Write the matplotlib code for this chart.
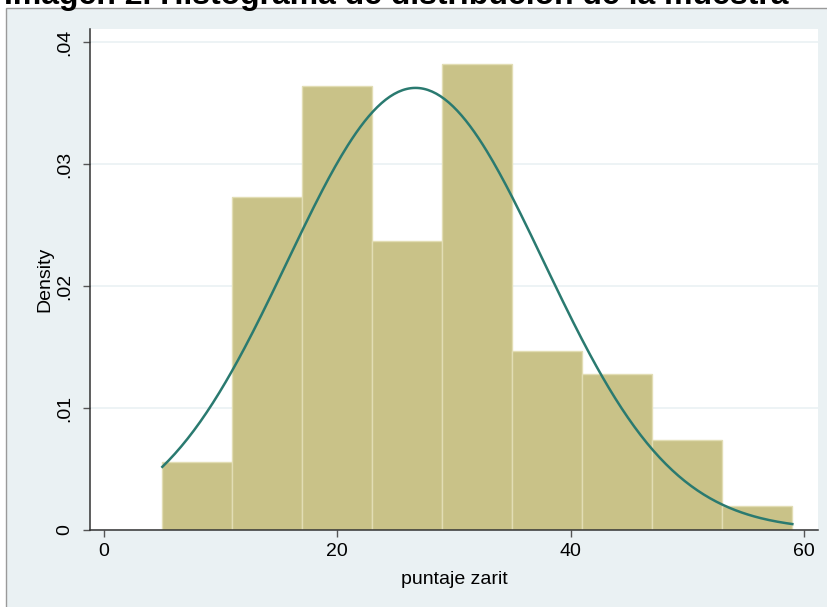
import numpy as np
import matplotlib.pyplot as plt
from matplotlib.patches import Rectangle

# histogram of puntaje zarit (bin edges and density per bin)
bin_edges = [5, 11, 17, 23, 29, 35, 41, 47, 53, 59]
densities = [0.0056, 0.0273, 0.0364, 0.0237, 0.0382, 0.0147, 0.0128, 0.0074, 0.0020]

# normal density overlay
curve_mean = 26.7
curve_sd = 11.0

y_ticks = [0, 0.01, 0.02, 0.03, 0.04]
y_tick_labels = ["0", ".01", ".02", ".03", ".04"]
x_ticks = [0, 20, 40, 60]

W, H = 828, 607
plt.rcParams['font.family'] = ['Liberation Sans', 'DejaVu Sans']

fig = plt.figure(figsize=(W / 100, H / 100), dpi=100)
fig.patch.set_facecolor('white')

# light blue-gray stata graph region, kept behind the axes
panel = Rectangle((6 / W, -0.02), 1.0, (H - 8) / H + 0.02, transform=fig.transFigure,
                  facecolor='#EAF1F3', edgecolor='#9a9a9a', linewidth=1.0, zorder=-10)
fig.patches.append(panel)

# title, cut off at the top of the screenshot
fig.text(4 / W, 1 - 4 / H, "Imagen 2. Histograma de distribución de la muestra",
         fontsize=23, fontweight='bold', ha='left', va='baseline', color='black')

left, right, top, bottom = 90, 818, 29, 530
ax = fig.add_axes([left / W, 1 - bottom / H, (right - left) / W, (bottom - top) / H])
ax.set_facecolor('white')

widths = np.diff(bin_edges)
ax.bar(bin_edges[:-1], densities, width=widths, align='edge',
       color='#C9C288', edgecolor='#E2DDB4', linewidth=1.0, zorder=2)

xs = np.linspace(bin_edges[0], bin_edges[-1], 300)
ys = np.exp(-0.5 * ((xs - curve_mean) / curve_sd) ** 2) / (curve_sd * np.sqrt(2 * np.pi))
ax.plot(xs, ys, color='#2A7A70', linewidth=1.8, zorder=3)

ax.set_xlim(-1.2, 61.2)
ax.set_ylim(0, 0.0411)

ax.set_yticks(y_ticks)
ax.set_yticklabels(y_tick_labels, rotation=90, va='center')
ax.set_xticks(x_ticks)
ax.grid(axis='y', color='#EAF1F3', linewidth=1.2, zorder=1)
ax.set_axisbelow(True)

for side in ['top', 'right']:
    ax.spines[side].set_visible(False)
for side in ['left', 'bottom']:
    ax.spines[side].set_color('#333333')
    ax.spines[side].set_linewidth(1.1)

ax.tick_params(axis='both', direction='out', length=5, width=1.0, color='#555555',
               labelsize=14, labelcolor='black')
ax.tick_params(axis='x', pad=4)
ax.tick_params(axis='y', pad=7)

ax.set_xlabel("puntaje zarit", fontsize=14, labelpad=8)
ax.set_ylabel("Density", fontsize=14, labelpad=2)

fig.savefig('out.png', dpi=100)
